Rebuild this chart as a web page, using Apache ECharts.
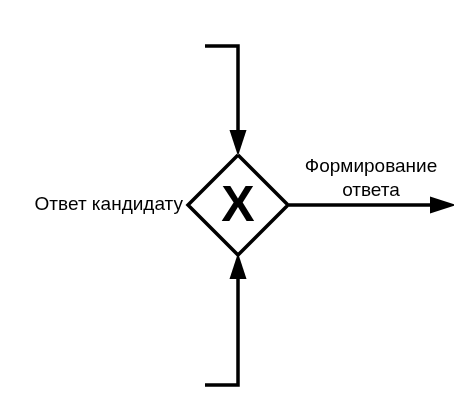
<!DOCTYPE html>
<html><head><meta charset="utf-8">
<script src="https://cdn.jsdelivr.net/npm/echarts@6/dist/echarts.min.js"></script>
<style>html,body{margin:0;padding:0;background:#fff}#c{width:454px;height:413px}</style>
</head><body><div id="c"></div>
<script>
// diagram in pixel-like units
const flows = [
  [[205, 46], [238, 46], [238, 140]],
  [[205, 385], [238, 385], [238, 270]],
  [[289, 205], [440, 205]]
];
const gateway = [[238, 155], [288, 205], [238, 255], [188, 205], [238, 155]];
// arrow head centres and rotation
const arrowHeads = [
  { pos: [238, 143], rot: 180 },
  { pos: [238, 266], rot: 0 },
  { pos: [443, 205], rot: -90 }
];
const labels = [
  { pos: [183, 205], text: 'Ответ кандидату', align: 'right' },
  { pos: [371, 167], text: 'Формирование', align: 'center' },
  { pos: [371, 191], text: 'ответа', align: 'center' }
];
const marker = [238, 207];

const chart = echarts.init(document.getElementById('c'));
const txt = { color: '#000', textBorderWidth: 0, opacity: 1 };
chart.setOption({
  animation: false,
  grid: { left: 0, right: 0, top: 0, bottom: 0 },
  xAxis: { type: 'value', min: 0, max: 454, show: false },
  yAxis: { type: 'value', min: 0, max: 413, inverse: true, show: false },
  series: [
    {
      type: 'lines', coordinateSystem: 'cartesian2d', polyline: true,
      lineStyle: { color: '#000', width: 3.5, opacity: 1 },
      data: flows.map(c => ({ coords: c }))
    },
    {
      type: 'lines', coordinateSystem: 'cartesian2d', polyline: true,
      lineStyle: { color: '#000', width: 3.5, opacity: 1, join: 'miter' },
      data: [{ coords: gateway }]
    },
    {
      type: 'scatter', symbol: 'triangle', symbolSize: [17, 26],
      itemStyle: { color: '#000', opacity: 1 },
      data: arrowHeads.map(a => ({ value: a.pos, symbolRotate: a.rot }))
    },
    {
      type: 'scatter', symbolSize: 0, itemStyle: { opacity: 1 },
      label: Object.assign({ show: true, position: 'inside', formatter: 'X',
        fontSize: 50, fontWeight: 'bold', fontFamily: 'Liberation Sans' }, txt),
      data: [marker]
    },
    {
      type: 'scatter', symbolSize: 0, itemStyle: { opacity: 1 },
      data: labels.map(l => ({
        value: l.pos,
        label: Object.assign({ show: true, position: 'inside', formatter: l.text, align: l.align,
          fontSize: 19, fontFamily: 'Liberation Sans' }, txt)
      }))
    }
  ]
});
</script></body></html>
